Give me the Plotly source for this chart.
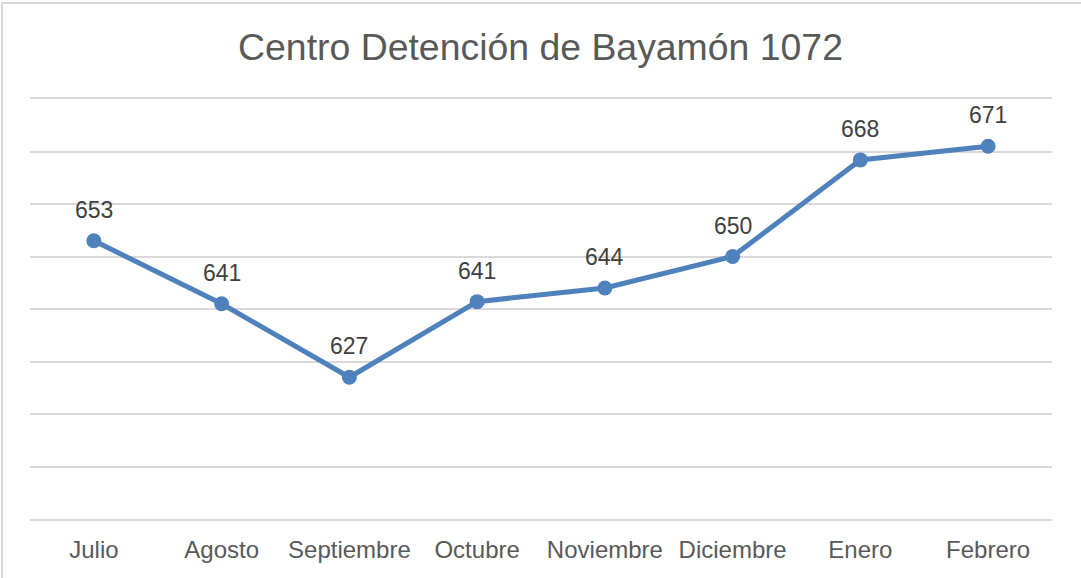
import plotly.graph_objects as go

months = ["Julio", "Agosto", "Septiembre", "Octubre", "Noviembre", "Diciembre", "Enero", "Febrero"]
values = [653, 641, 627, 641.4, 644, 650, 668.4, 671]
labels = ["653", "641", "627", "641", "644", "650", "668", "671"]

W, H = 1081, 578
ml, mr, mt, mb = 30, 29, 99, 59
pw, ph = W - ml - mr, H - mt - mb
FONT = "Liberation Sans, Arial"

xs = list(range(len(months)))

fig = go.Figure()
fig.add_trace(go.Scatter(
    x=xs, y=values,
    mode="lines+markers",
    line=dict(color="#4F81BD", width=5),
    marker=dict(color="#4F81BD", size=15),
    cliponaxis=False, hoverinfo="skip",
))

annotations = [
    dict(x=x, y=v, text=t, showarrow=False, yshift=31, xanchor="center", yanchor="middle",
         font=dict(family=FONT, size=23, color="#404040"))
    for x, v, t in zip(xs, values, labels)
]

fig.update_layout(
    width=W, height=H,
    margin=dict(l=ml, r=mr, t=mt, b=mb),
    paper_bgcolor="white", plot_bgcolor="white",
    showlegend=False,
    title=dict(text="Centro Detención de Bayamón 1072", x=0.5, xanchor="center",
               y=1 - 47 / H, yanchor="middle",
               font=dict(family=FONT, size=37.4, color="#595959")),
    xaxis=dict(tickmode="array", tickvals=xs, ticktext=months,
               range=[-0.5, len(months) - 0.5], showgrid=False, zeroline=False,
               showline=True, mirror=True, linecolor="#D9D9D9", linewidth=2,
               ticks="", ticklabelstandoff=8,
               tickfont=dict(family=FONT, size=24, color="#595959")),
    yaxis=dict(range=[600, 680], dtick=10, tick0=600, showticklabels=False,
               showgrid=True, gridcolor="#D9D9D9", gridwidth=2, zeroline=False,
               showline=False),
    annotations=annotations,
    shapes=[dict(type="rect", xref="paper", yref="paper",
                 x0=(2 - ml) / pw, x1=(W + 20 - ml) / pw,
                 y0=-(H + 20 - mt - ph) / ph, y1=(H - 3 - mb) / ph,
                 line=dict(color="#D9D9D9", width=2), layer="below")],
)

fig.write_html("out.html", config={"displayModeBar": False},
               post_script="document.body.style.margin='0';document.body.style.overflow='hidden';")
